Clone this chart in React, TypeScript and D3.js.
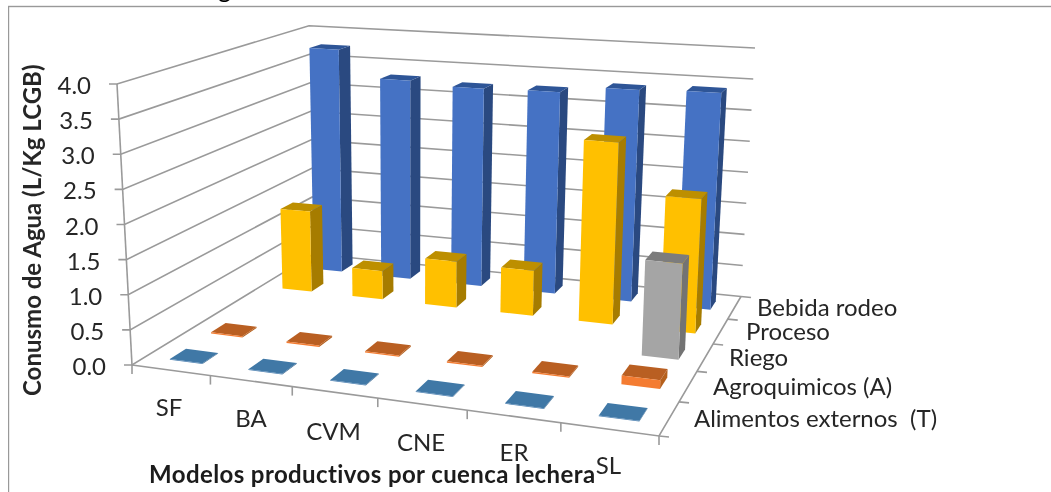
import React from "react";
import * as d3 from "d3";

const categories = ["SF", "BA", "CVM", "CNE", "ER", "SL"];
const seriesNames = ["Alimentos externos  (T)", "Agroquimicos (A)", "Riego", "Proceso", "Bebida rodeo"];
const alimentos = [0.01, 0.01, 0.01, 0.01, 0.01, 0.01];
const agroquimicos = [0.02, 0.02, 0.02, 0.02, 0.02, 0.12];
const riego = [0, 0, 0, 0, 0, 1.38];
const proceso = [1.3, 0.45, 0.72, 0.7, 2.78, 2.02];
const bebida = [3.75, 3.3, 3.24, 3.26, 3.37, 3.4];
const yTicks = [0, 0.5, 1, 1.5, 2, 2.5, 3, 3.5, 4];
const yLabels = ["0.0", "0.5", "1.0", "1.5", "2.0", "2.5", "3.0", "3.5", "4.0"];
const seriesValues = [alimentos, agroquimicos, riego, proceso, bebida];

const frontColors = ["#4a7fb0", "#f47c30", "#a5a5a5", "#ffc000", "#4472c4"];
const topColors = ["#3f78a6", "#b95f22", "#7c7c7c", "#bd8f00", "#2f5597"];
const sideColors = ["#33608a", "#b5601f", "#737373", "#a67c00", "#2b4a80"];

type P = [number, number];

// projective map of the unit square onto a quad (a: u0v0, b: u1v0, c: u1v1, d: u0v1)
function quadMap(a: P, b: P, c: P, d: P) {
  const dx1 = b[0] - c[0], dx2 = d[0] - c[0], sx = a[0] - b[0] + c[0] - d[0];
  const dy1 = b[1] - c[1], dy2 = d[1] - c[1], sy = a[1] - b[1] + c[1] - d[1];
  const den = dx1 * dy2 - dx2 * dy1;
  const g = (sx * dy2 - dx2 * sy) / den;
  const h = (dx1 * sy - sx * dy1) / den;
  const A = b[0] - a[0] + g * b[0], B = d[0] - a[0] + h * d[0], C = a[0];
  const D = b[1] - a[1] + g * b[1], E = d[1] - a[1] + h * d[1], F = a[1];
  return (u: number, v: number): P => {
    const w = g * u + h * v + 1;
    return [(A * u + B * v + C) / w, (D * u + E * v + F) / w];
  };
}

const floor = quadMap([132, 365], [659, 436], [741, 296.5], [313.5, 254]);
const ceil = quadMap([117, 84], [670, 121], [755, 48], [309, 25.7]);
const zScale = d3.scaleLinear().domain([0, 4]).range([0, 1]);
const xScale = d3.scaleBand<string>().domain(categories).range([0.004, 1.004]).paddingInner(0.58).paddingOuter(0.29);
const dScale = d3.scaleBand<string>().domain(seriesNames).range([0, 1]).paddingInner(0.62).paddingOuter(0.31);

function project(u: number, v: number, value: number): P {
  const t = zScale(value);
  const f = floor(u, v);
  const c = ceil(u, v);
  return [f[0] + (c[0] - f[0]) * t, f[1] + (c[1] - f[1]) * t];
}

const pathOf = d3.line<P>();
const poly = (pts: P[]) => pathOf(pts) + "Z";
const GRID = "#9a9a9a";
const FONT = "Lato, Carlito, sans-serif";
const TEXT = "#262626";

function Bars() {
  const out: React.ReactNode[] = [];
  for (let s = seriesNames.length - 1; s >= 0; s--) {
    const v0 = dScale(seriesNames[s])!;
    const v1 = v0 + dScale.bandwidth();
    categories.forEach((cat, i) => {
      const val = seriesValues[s][i];
      if (val <= 0) return;
      const u0 = xScale(cat)!;
      const u1 = u0 + xScale.bandwidth();
      const fl = project(u0, v0, 0), fr = project(u1, v0, 0), br = project(u1, v1, 0);
      const tl = project(u0, v0, val), tr = project(u1, v0, val), btr = project(u1, v1, val), btl = project(u0, v1, val);
      out.push(
        <g key={`${s}-${i}`}>
          <path d={poly([fr, br, btr, tr])} fill={sideColors[s]} />
          <path d={poly([tl, tr, btr, btl])} fill={topColors[s]} />
          <path d={poly([fl, fr, tr, tl])} fill={frontColors[s]} />
        </g>
      );
    });
  }
  return <g>{out}</g>;
}

function Walls() {
  return (
    <g stroke={GRID} strokeWidth={1.6} fill="none">
      {yTicks.map((t) => {
        const a = project(0, 0, t), b = project(0, 1, t), c = project(1, 1, t);
        return <path key={t} d={pathOf([[a[0] - 8, a[1]], a, b, c])!} />;
      })}
      <path d={pathOf([project(0, 0, 0), project(0, 0, 4)])!} />
      <path d={pathOf([project(0, 0, 0), project(1, 0, 0), project(1, 1, 0)])!} />
      {d3.range(7).map((i) => {
        const p = project(i / 6, 0, 0);
        return <path key={i} d={pathOf([p, [p[0], p[1] + 9]])!} />;
      })}
      {d3.range(6).map((i) => {
        const p = project(1, i / 5, 0);
        return <path key={i} d={pathOf([p, [p[0] + 10, p[1] + 1]])!} />;
      })}
    </g>
  );
}

const catLabelPos: P[] = [[169, 416], [251, 427], [333.5, 440], [421, 451], [514, 461], [608.5, 474]];
const seriesLabelPos: P[] = [[694, 427], [713, 395], [729, 366], [746, 340], [757, 316]];

export default function App() {
  return (
    <svg width={1051} height={492} style={{ position: "absolute", left: 0, top: 0, background: "#fff" }}>
      <defs>
        <filter id="soft" x="0" y="0" width="100%" height="100%">
          <feGaussianBlur stdDeviation="0.45" />
        </filter>
      </defs>
      <g filter="url(#soft)">
        <text x={218} y={-2} fontFamily={FONT} fontSize={25} fill="#000">g</text>
        <rect x={8.5} y={6.5} width={1100} height={520} fill="none" stroke="#999" strokeWidth={1.4} />
        <Walls />
        <Bars />
        <g fontFamily={FONT} fontSize={24} fill={TEXT}>
          {yTicks.map((t, i) => {
            const p = project(0, 0, t);
            return <text key={t} x={p[0] - 26} y={p[1] + 10} textAnchor="end">{yLabels[i]}</text>;
          })}
          {categories.map((c, i) => (
            <text key={c} x={catLabelPos[i][0]} y={catLabelPos[i][1]} textAnchor="middle">{c}</text>
          ))}
          {seriesNames.map((n, i) => (
            <text key={n} x={seriesLabelPos[i][0]} y={seriesLabelPos[i][1]} style={{ whiteSpace: "pre" }}>{n}</text>
          ))}
        </g>
        <text transform="translate(41,396) rotate(-90)" fontFamily={FONT} fontSize={24} fontWeight={700} fill={TEXT}>
          Conusmo de Agua (L/Kg LCGB)
        </text>
        <text x={149} y={483} fontFamily={FONT} fontSize={24} fontWeight={700} letterSpacing={0.4} fill="#1a1a1a">
          Modelos productivos por cuenca lechera
        </text>
      </g>
    </svg>
  );
}
